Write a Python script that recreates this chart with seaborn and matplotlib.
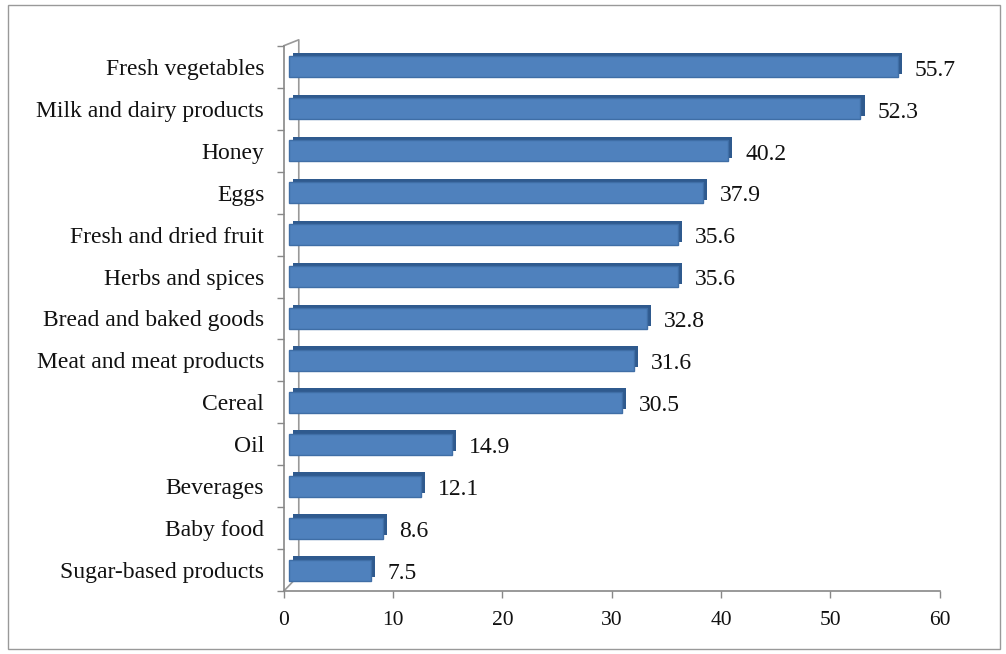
# horizontal bar chart - food categories
import matplotlib.pyplot as plt
import matplotlib.patheffects as pe
import matplotlib.transforms as mtrans
import seaborn as sns
import pandas as pd
from matplotlib.patches import Rectangle

categories = ['Fresh vegetables', 'Milk and dairy products', 'Honey', 'Eggs',
              'Fresh and dried fruit', 'Herbs and spices', 'Bread and baked goods',
              'Meat and meat products', 'Cereal', 'Oil', 'Beverages', 'Baby food',
              'Sugar-based products']
values = [55.7, 52.3, 40.2, 37.9, 35.6, 35.6, 32.8, 31.6, 30.5, 14.9, 12.1, 8.6, 7.5]
xticks = [0, 10, 20, 30, 40, 50, 60]

df = pd.DataFrame({'category': categories, 'value': values})

sns.set_style('white')
plt.rcParams['font.family'] = ['Liberation Serif', 'DejaVu Serif']

fig = plt.figure(figsize=(10.06, 6.54), dpi=100)
ax = fig.add_axes([0.282, 0.096, 0.652, 0.834])

sns.barplot(x='value', y='category', data=df, orient='h', color='#4F81BD',
            saturation=1, width=0.5, edgecolor='#3F6EA6', linewidth=1.0, ax=ax)

# pseudo 3D look: shift bars a little and add a darker depth face
shift = mtrans.ScaledTranslation(0.05, 0, fig.dpi_scale_trans)
for p in ax.patches:
    p.set_transform(ax.transData + shift)
    p.set_path_effects([pe.SimplePatchShadow(offset=(3, 2.5), shadow_rgbFace='#2F5A8E', alpha=1),
                        pe.Normal()])

for i, v in enumerate(values):
    ax.text(v + 2.0, i + 0.08, f'{v}', va='center', ha='left', fontsize=17, color='#111111')

ax.set_xlim(0, 60)
ax.set_ylim(len(categories) - 0.5, -0.5)
ax.set_xticks(xticks)
ax.set_xlabel('')
ax.set_ylabel('')
ax.tick_params(axis='x', labelsize=15.5, length=5, width=1, color='#888888',
               direction='out', bottom=True, pad=9, labelcolor='#111111')
ax.tick_params(axis='y', labelsize=17, length=0, pad=14, labelcolor='#111111')
ax.set_yticks([i + 0.5 for i in range(-1, len(categories))], minor=True)
ax.tick_params(axis='y', which='minor', length=5, width=1, color='#888888', left=True)

for s in ['top', 'right']:
    ax.spines[s].set_visible(False)
for s in ['left', 'bottom']:
    ax.spines[s].set_color('#888888')
    ax.spines[s].set_linewidth(1.2)

# 3D wall outline (back edge)
ax.plot([0, 0.023, 0.023, 0], [1.0, 1.011, 0.029, 0], transform=ax.transAxes,
        color='#999999', linewidth=1.2, clip_on=False, zorder=0)

# outer frame
fig.patches.append(Rectangle((0.008, 0.008), 0.986, 0.984, transform=fig.transFigure,
                             fill=False, edgecolor='#999999', linewidth=1))

fig.savefig('out.png', dpi=100)
